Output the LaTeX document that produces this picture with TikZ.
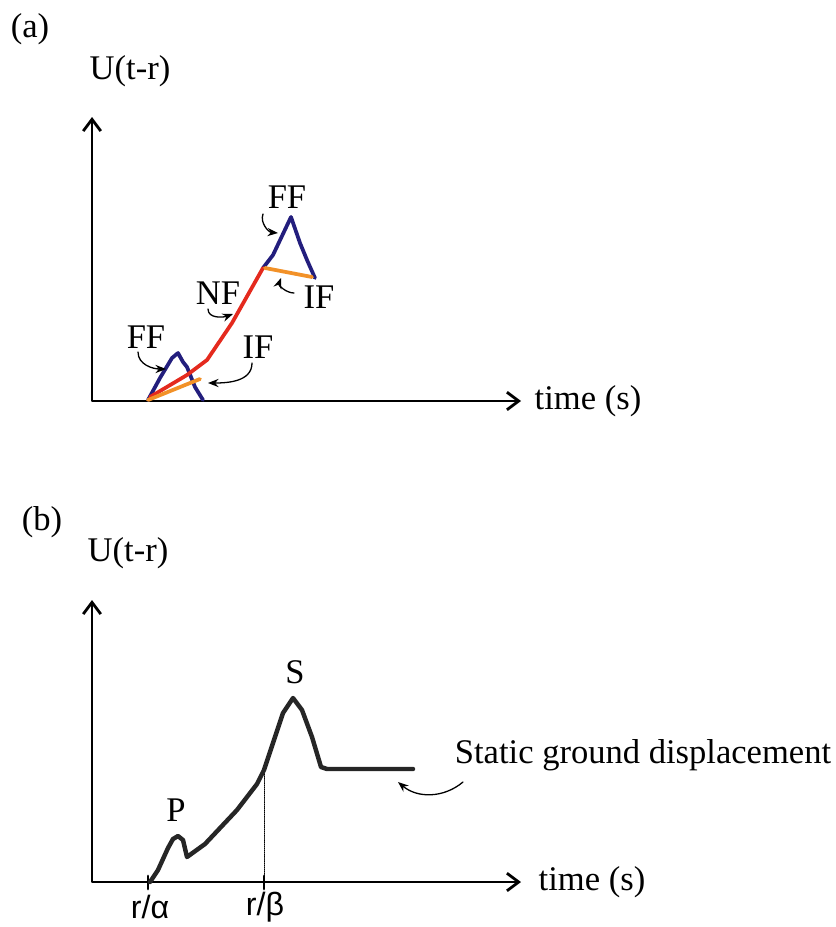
\documentclass[tikz,border=0pt]{standalone}
\usepackage{fontspec}
\setmainfont{Liberation Serif}
\newfontfamily\labelsans{Liberation Sans}
\usetikzlibrary{arrows.meta}
\definecolor{ffblue}{RGB}{35,30,125}
\definecolor{nfred}{RGB}{228,42,30}
\definecolor{iforange}{RGB}{242,145,40}

\begin{document}
\begin{tikzpicture}[x=0.03cm, y=-0.03cm, line cap=round, line join=round,
    font=\fontsize{29.5}{33}\selectfont,
    axis/.style={line width=2.4pt,
        {Straight Barb[length=10pt,width=15pt]}-{Straight Barb[length=10pt,width=15pt]}},
    pointer/.style={line width=1.1pt, -{Stealth[length=9pt,width=7pt]}},
    wave/.style={line width=3.2pt},
    trace/.style={line width=3.8pt, black!85}]

\useasboundingbox (0,0) rectangle (835,927);

% === (a) CAMPOS FF / NF / IF ===
\begin{scope}
    % Ejes
    \coordinate (oa) at (92,401);
    \coordinate (ya) at (92,117);
    \coordinate (xa) at (521,401);
    \draw[axis] (ya) -- (oa) -- (xa);
    \node (pa) at (30,29) {(a)};
    \node (ua) at (130,71) {U(t-r)};
    \node (ta) at (588,401) {time (s)};
    % Pulsos de campo lejano (azul)
    \draw[wave, ffblue] (148,400) -- (160,378) -- (172,358) -- (178,353)
        -- (183,362) -- (187,367) -- (195,387) -- (203,400);
    \draw[wave, ffblue] (263,268) -- (273,255) -- (291,217) -- (300,243)
        -- (307,260) -- (315,278);
    % Campo cercano (rojo)
    \draw[wave, nfred] (150,397) -- (187,375) -- (207,360) -- (232,323) -- (263,268);
    % Campo intermedio (naranja)
    \draw[wave, iforange] (148,400) -- (200,379);
    \draw[wave, iforange] (265,268) -- (312,277);
    % Etiquetas
    \node (ffb) at (146,337) {FF};
    \node (fft) at (287,197) {FF};
    \node (nf) at (218,293) {NF};
    \node (ifb) at (258,347) {IF};
    \node (ift) at (319,297) {IF};
    % Flechas curvas
    \coordinate (ffb1) at (138,352);  \coordinate (ffb2) at (166,369);
    \coordinate (fft1) at (263,214);  \coordinate (fft2) at (278,233);
    \coordinate (nf1) at (208,309);   \coordinate (nf2) at (233,314);
    \coordinate (ifb1) at (252,363);  \coordinate (ifb2) at (208,383);
    \coordinate (ift1) at (294,293);  \coordinate (ift2) at (281,278);
    \draw[pointer] (ffb1) to[out=-90, in=180] (ffb2);
    \draw[pointer] (fft1) to[out=-110, in=175] (fft2);
    \draw[pointer] (nf1) to[out=-90, in=200] (nf2);
    \draw[pointer] (ifb1) to[out=-90, in=0] (ifb2);
    \draw[pointer] (ift1) to[out=180, in=-110] (ift2);
\end{scope}

% === (b) REGISTRO P / S ===
\begin{scope}
    % Ejes
    \coordinate (ob) at (92,882);
    \coordinate (yb) at (92,600);
    \coordinate (xb) at (521,882);
    \draw[axis] (yb) -- (ob) -- (xb);
    \node (pb) at (42,522) {(b)};
    \node (ub) at (128,553) {U(t-r)};
    \node (tb) at (592,882) {time (s)};
    % Marcas r/alpha y r/beta
    \foreach \x in {148,264}{
        \draw[line width=2.4pt] (\x,876) -- (\x,889);
    }
    \node[font=\labelsans\fontsize{27.5}{30}\selectfont] (ra) at (150,907) {r/α};
    \node[font=\labelsans\fontsize{27.5}{30}\selectfont] (rb) at (265,907) {r/β};
    % Linea punteada
    \coordinate (sb) at (264,770);
    \draw[densely dotted, line width=0.8pt] (sb) -- (264,882);
    % Sismograma
    \draw[trace] (150,882) -- (158,870) -- (168,848) -- (173,839) -- (178,836)
        -- (183,840) -- (187,857) -- (205,844) -- (237,810) -- (257,784)
        -- (sb) -- (283,713) -- (293,698) -- (302,710) -- (312,737)
        -- (321,767) -- (327,769) -- (413,769);
    \node (p) at (176,810) {P};
    \node (s) at (295,672) {S};
    % Desplazamiento estatico
    \node (st) at (643,755) {Static ground displacement};
    \coordinate (st1) at (463,782);
    \coordinate (st2) at (398,782);
    \draw[pointer] (st1) to[out=-140, in=-40] (st2);
\end{scope}

\end{tikzpicture}
\end{document}
